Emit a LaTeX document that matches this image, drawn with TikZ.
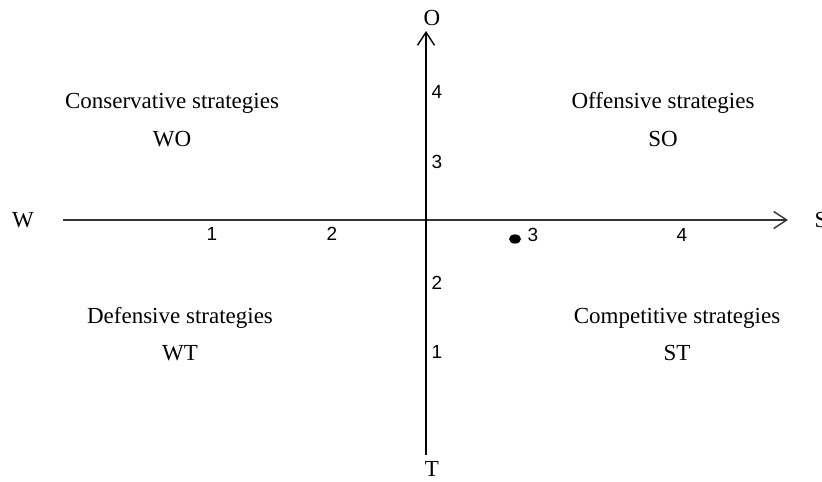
\documentclass[tikz,border=0pt]{standalone}
\usepackage{fontspec}
\setmainfont{Liberation Serif}
\setsansfont{Liberation Sans}
\usetikzlibrary{arrows.meta,positioning}
\begin{document}
\begin{tikzpicture}[x=0.5pt,y=-0.5pt,>={Straight Barb[length=6.5pt,width=8.5pt,line width=0.7pt]},every node/.style={font=\fontsize{11.5}{13}\selectfont},axis/.style={->,line width=0.75pt,black!80},tick/.style={font=\sffamily\fontsize{9.5}{11}\selectfont},quad/.style={align=center}]
\useasboundingbox (0,0) rectangle (822,481);
\coordinate (Wend) at (63,220);\coordinate (Send) at (788,220);
\coordinate (Tend) at (426,455);\coordinate (Oend) at (426,31);
\draw[axis] (Wend)--(Send);
\draw[axis,black] (Tend)--(Oend);
\node (W) at (23,220) {W};\node (S) at (821,220) {S};
\node (O) at (432,18) {O};\node (T) at (432,469) {T};
% ticks along the axes
\node[tick] (h1) at (212,234) {1};\node[tick] (h2) at (332,234) {2};
\node[tick] (h3) at (533,235) {3};\node[tick] (h4) at (682,235) {4};
\node[tick] (v4) at (437,92) {4};\node[tick] (v3) at (437,162) {3};
\node[tick] (v2) at (437,283) {2};\node[tick] (v1) at (437,352) {1};
\fill (515,239) ellipse (3pt and 2.3pt);
% quadrants
\node (cons) at (172,103) {Conservative strategies};\node (wo) at (172,139) {WO};
\node (offe) at (663,103) {Offensive strategies};\node (so) at (663,139) {SO};
\node (defe) at (180,318) {Defensive strategies};\node (wt) at (180,353) {WT};
\node (comp) at (677,318) {Competitive strategies};\node (st) at (677,353) {ST};
\end{tikzpicture}
\end{document}
